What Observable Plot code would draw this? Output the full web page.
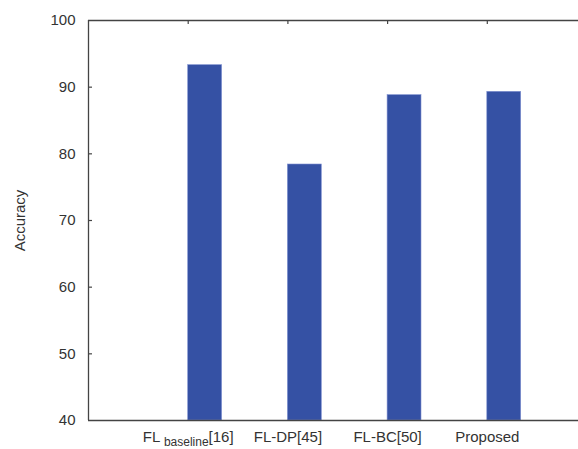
<!DOCTYPE html>
<html>
<head>
<meta charset="utf-8">
<script src="https://cdn.jsdelivr.net/npm/d3@7"></script>
<script src="https://cdn.jsdelivr.net/npm/@observablehq/plot@0.6"></script>
<style>
  html, body { margin: 0; padding: 0; background: #fff; overflow: hidden; }
  #chart { width: 578px; height: 449px; overflow: hidden; }
</style>
</head>
<body>
<div id="chart"></div>
<script>
const categories = ["FL baseline [16]", "FL-DP[45]", "FL-BC[50]", "Proposed"];
const accuracy = [93.3, 78.4, 88.8, 89.3];
const yTicks = [40, 50, 60, 70, 80, 90, 100];
const yLabel = "Accuracy";

const positions = categories.map((c, i) => i + 1);
const data = categories.map((c, i) => ({pos: positions[i], name: c, acc: accuracy[i]}));

const axisColor = "#444";
const textColor = "#333";
const barColor = "#3551a4";

const chart = Plot.plot({
  width: 578,
  height: 449,
  marginLeft: 88,
  marginTop: 20,
  marginBottom: 29,
  marginRight: 0,
  style: {fontFamily: "Liberation Sans, Arial, sans-serif", fontSize: "15px", color: textColor, background: "#fff"},
  x: {domain: [0, 5], range: [88, 586.5]},
  y: {domain: [40, 100]},
  marks: [
    Plot.rectY(data, {x1: "pos", x2: d => d.pos + 0.34, y1: 40, y2: "acc", fill: barColor, stroke: "#7f90d0", strokeWidth: 0.6}),
    Plot.ruleY([100], {stroke: axisColor, strokeWidth: 1.3}),
    Plot.ruleY([40], {stroke: axisColor, strokeWidth: 1.3}),
    Plot.ruleX([0], {stroke: axisColor, strokeWidth: 1.3}),
    Plot.ruleY(yTicks.slice(1, -1), {x1: 0, x2: 0.04, stroke: axisColor, strokeWidth: 1.2}),
    Plot.ruleX(positions, {y1: 100, y2: 99.4, stroke: axisColor, strokeWidth: 1.2}),
    Plot.axisY({ticks: yTicks, tickSize: 0, tickPadding: 13, fontSize: 15, label: yLabel, labelAnchor: "center", labelArrow: "none", labelOffset: 74, color: textColor}),
    Plot.axisX({ticks: positions, tickFormat: p => categories[p - 1], tickSize: 0, tickPadding: 11, fontSize: 15, label: null, color: textColor})
  ]
});

document.getElementById("chart").appendChild(chart);

// subscript formatting for the first category label
chart.querySelectorAll("text").forEach(t => {
  if (t.textContent === categories[0]) {
    const parts = categories[0].split(" ");
    while (t.firstChild) t.removeChild(t.firstChild);
    const ns = "http://www.w3.org/2000/svg";
    const a = document.createElementNS(ns, "tspan");
    a.textContent = parts[0] + " ";
    const b = document.createElementNS(ns, "tspan");
    b.textContent = parts[1];
    b.setAttribute("font-size", "12");
    b.setAttribute("dy", "4");
    const c = document.createElementNS(ns, "tspan");
    c.textContent = parts[2];
    c.setAttribute("dy", "-4");
    t.appendChild(a); t.appendChild(b); t.appendChild(c);
  }
});
</script>
</body>
</html>
